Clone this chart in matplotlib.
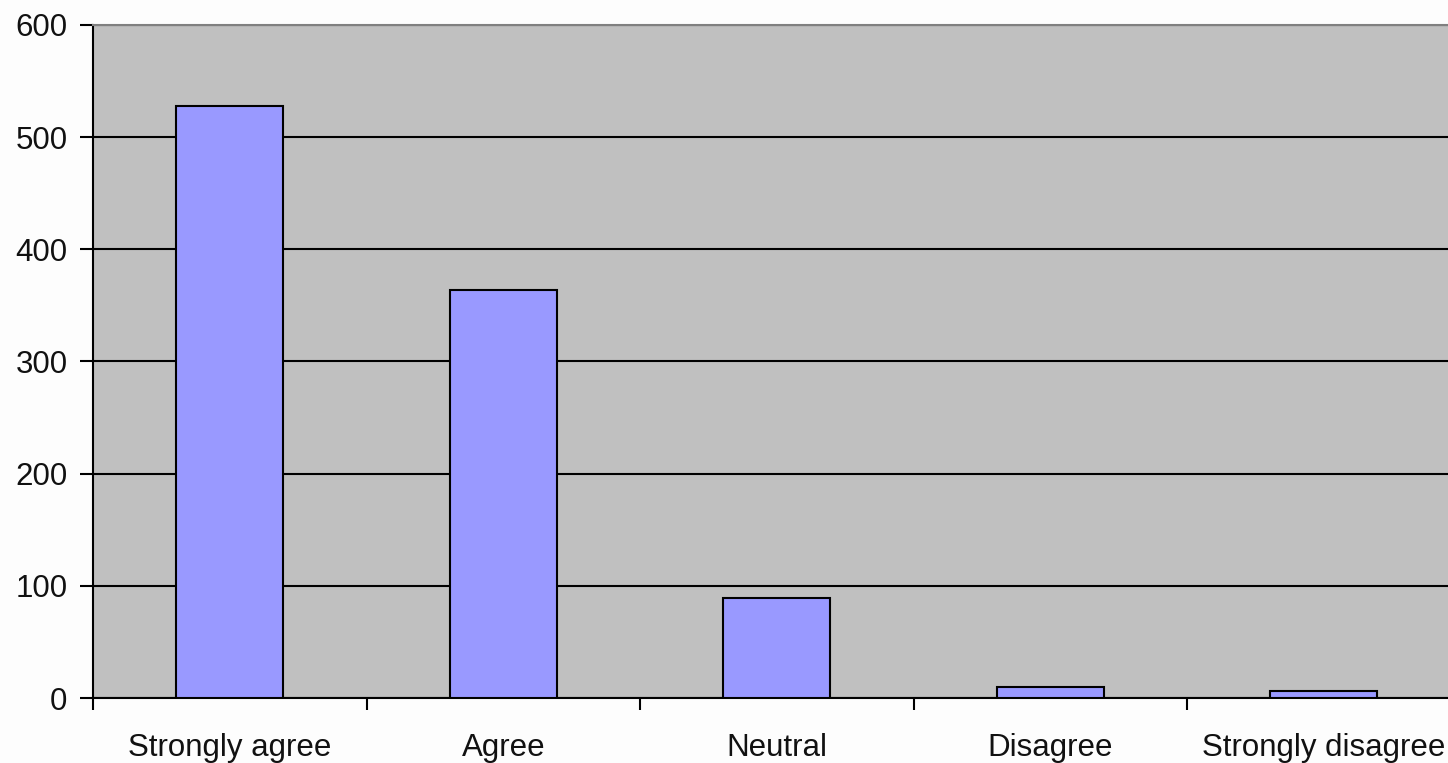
import matplotlib.pyplot as plt
import numpy as np

categories = ['Strongly agree', 'Agree', 'Neutral', 'Disagree', 'Strongly disagree']
counts = [528, 364, 89, 10, 6]
yticks = [0, 100, 200, 300, 400, 500, 600]

plt.rcParams['font.family'] = ['Liberation Sans', 'DejaVu Sans']

fig = plt.figure(figsize=(14.48, 7.63), dpi=100)
fig.patch.set_facecolor('#fdfdfd')

# plot area runs a little past the right edge of the figure
W, H = 1448, 763
ax = fig.add_axes([93 / W, (H - 698) / H, (1460.5 - 93) / W, (698 - 25) / H])
ax.set_facecolor('#c0c0c0')

x = np.arange(len(categories))
ax.bar(x, counts, width=0.39, color='#9999ff', edgecolor='black', linewidth=1.5, zorder=3)

ax.set_xlim(-0.5, len(categories) - 0.5)
ax.set_ylim(0, 600)
ax.set_yticks(yticks)
ax.yaxis.grid(True, color='black', linewidth=1.5, zorder=1)
ax.set_axisbelow(True)

ax.set_xticks(np.arange(len(categories) + 1) - 0.5, minor=False)
ax.set_xticklabels([])
ax.set_xticks(x, minor=True)
ax.set_xticklabels(categories, minor=True, color='#111111')
ax.tick_params(axis='x', which='minor', length=0, pad=25, labelsize=22.5)
ax.tick_params(axis='x', which='major', length=8.6, width=1.5, direction='out')
ax.tick_params(axis='y', length=9.4, width=1.5, direction='out', pad=9, labelsize=22.5,
               labelcolor='#111111')

for side in ['left', 'bottom']:
    ax.spines[side].set_linewidth(1.5)
    ax.spines[side].set_color('black')
ax.spines['top'].set_color('#808080')
ax.spines['top'].set_linewidth(1.5)
ax.spines['right'].set_visible(False)

fig.savefig('out.png', dpi=100, facecolor=fig.get_facecolor())
